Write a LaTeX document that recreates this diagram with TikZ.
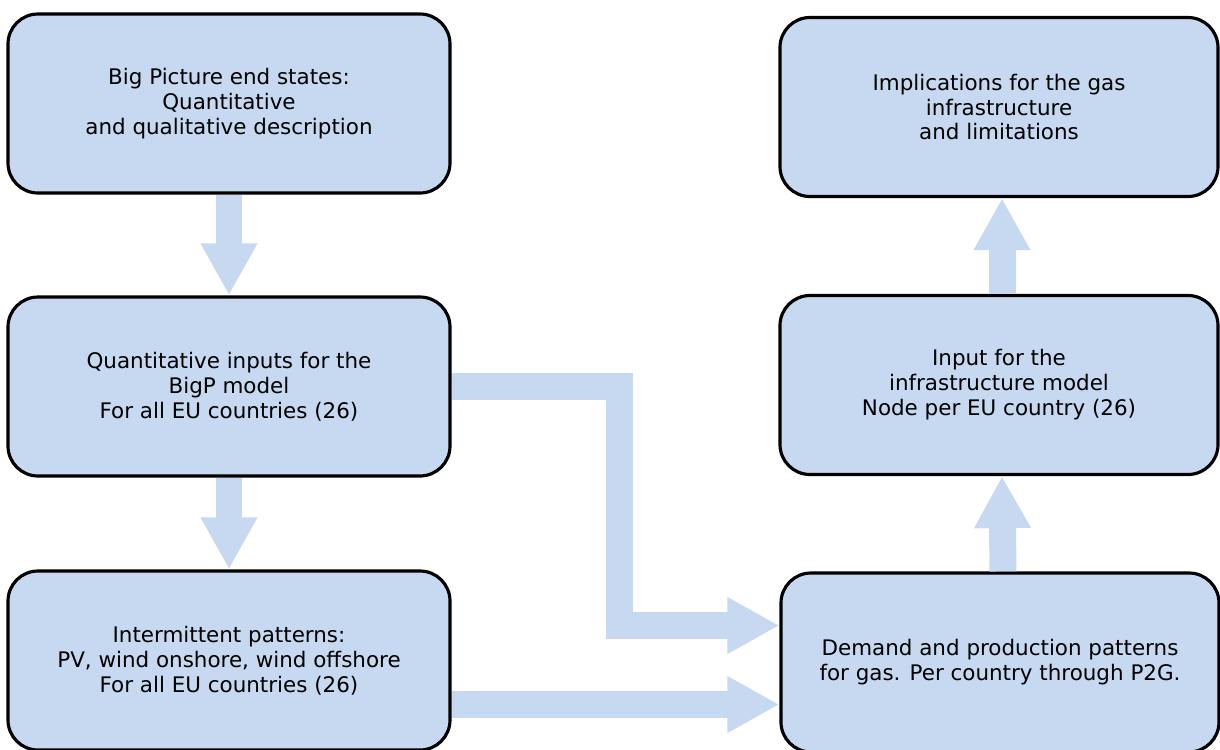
\documentclass[tikz,border=0pt]{standalone}
\usepackage{fontspec}
\setmainfont{DejaVu Sans}
\usetikzlibrary{positioning,calc,arrows.meta}
\definecolor{theme}{RGB}{198, 217, 240}

\tikzset{
    block/.style={draw, line width=0.9pt, rounded corners=3mm, fill=theme,
        minimum width=4.42cm, minimum height=1.79cm, inner sep=0pt,
        align=center, font=\fontsize{6.1}{7.1}\selectfont},
    flow/.style={draw=theme, line width=2.7mm, line join=miter,
        -{Triangle[length=5.2mm,width=5.3mm]}}
}

\begin{document}
\begin{tikzpicture}
    \useasboundingbox (0,0) rectangle (12.2,7.49);

    \node[block] (bigp) at (2.29,6.455) {Big Picture end states:\\Quantitative\\and qualitative description};
    \node[block] (inputs) at (2.29,3.625) {Quantitative inputs for the\\BigP model\\For all EU countries (26)};
    \node[block] (patterns) at (2.29,0.885) {Intermittent patterns:\\PV, wind onshore, wind offshore\\For all EU countries (26)};

    \node[block, minimum width=4.38cm] (gas) at (10.0,0.865) {Demand and production patterns\\for gas. Per country through P2G.};
    \node[block, minimum width=4.38cm] (infra) at (9.99,3.64) {Input for the\\infrastructure model\\Node per EU country (26)};
    \node[block, minimum width=4.38cm] (impl) at (9.99,6.42) {Implications for the gas\\infrastructure\\and limitations};

    % block arrows
    \draw[flow] (bigp) -- (inputs);
    \draw[flow] (inputs) -- (patterns);
    \draw[flow] (inputs.east) -- ++(1.68,0) |- ([yshift=3.7mm]gas.west);
    \draw[flow] ([yshift=-4.4mm]patterns.east) coordinate (p1) -- (p1 -| gas.west);
    \draw[flow] ([xshift=0.3mm]gas.north) -- ([xshift=0.3mm]infra.south);
    \draw[flow] ([xshift=0.3mm]infra.north) -- ([xshift=0.3mm]impl.south);
\end{tikzpicture}
\end{document}
